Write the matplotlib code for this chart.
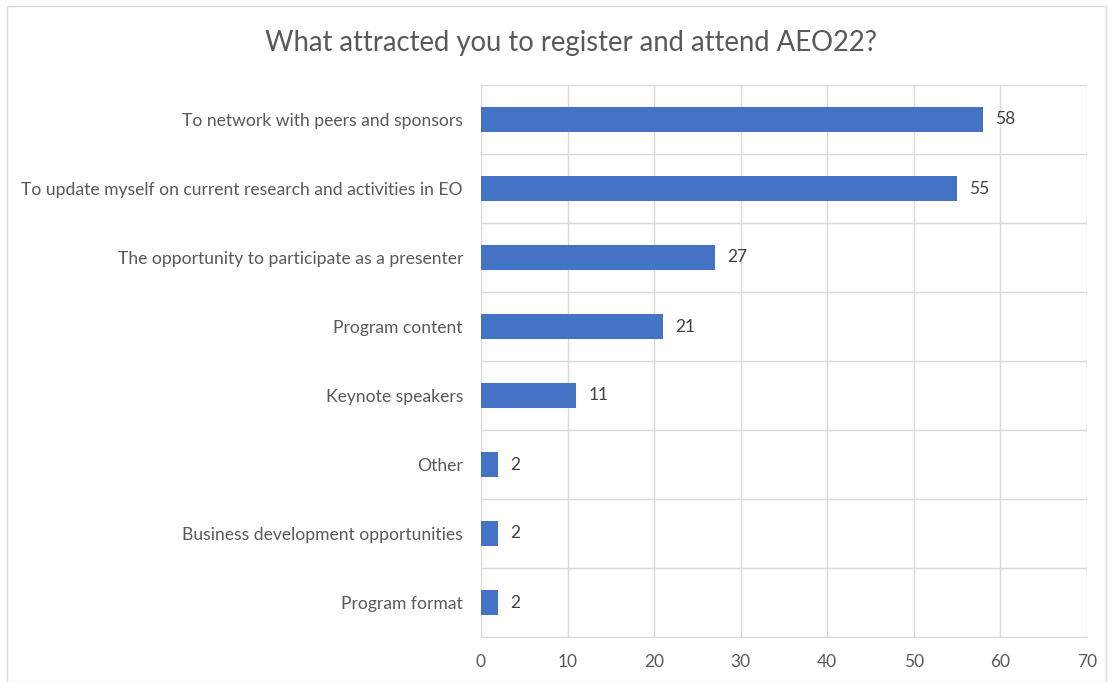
import matplotlib
matplotlib.use("Agg")
import matplotlib.pyplot as plt
from matplotlib.patches import Rectangle
import numpy as np

categories = [
    "To network with peers and sponsors",
    "To update myself on current research and activities in EO",
    "The opportunity to participate as a presenter",
    "Program content",
    "Keynote speakers",
    "Other",
    "Business development opportunities",
    "Program format",
]
values = [58, 55, 27, 21, 11, 2, 2, 2]
xticks = [0, 10, 20, 30, 40, 50, 60, 70]
title = "What attracted you to register and attend AEO22?"

plt.rcParams['font.family'] = ['Lato', 'DejaVu Sans']
text_color = "#595959"
grid_color = "#d9d9d9"
bar_color = "#4472c4"

fig = plt.figure(figsize=(11.08, 6.82), dpi=100)
ax = fig.add_axes([481/1108, 1-637/682, (1087-481)/1108, (637-85)/682])

n = len(categories)
y = np.arange(n)
ax.barh(y, values, height=0.35, color=bar_color, zorder=3)
for yi, v in zip(y, values):
    ax.text(v + 1.4, yi, str(v), va='center', ha='left', fontsize=12.5, color="#404040")

ax.set_ylim(n - 0.5, -0.5)
ax.set_xlim(0, 70)
ax.set_yticks(y)
ax.set_yticklabels(categories, fontsize=12.6, color=text_color)
ax.set_yticks(np.arange(-0.5, n, 1), minor=True)
ax.set_xticks(xticks)
ax.set_xticklabels([str(t) for t in xticks], fontsize=12.5, color=text_color)
ax.tick_params(axis='both', which='both', length=0)
ax.tick_params(axis='y', pad=13)
ax.tick_params(axis='x', pad=12)
ax.grid(axis='x', which='major', color=grid_color, lw=1, zorder=0)
ax.grid(axis='y', which='minor', color=grid_color, lw=1, zorder=0)
for s in ['top', 'right']:
    ax.spines[s].set_visible(False)
ax.spines['left'].set_color(grid_color)
ax.spines['bottom'].set_color(grid_color)

fig.text(571/1108, 1-43/682, title, ha='center', va='center', fontsize=19.8, color=text_color)
fig.patches.append(Rectangle((7/1108, 0), 1 - 7/1108 - 2/1108, 1 - 6/682, transform=fig.transFigure,
                             fill=False, edgecolor=grid_color, lw=1))

fig.savefig("out.png", dpi=100)
